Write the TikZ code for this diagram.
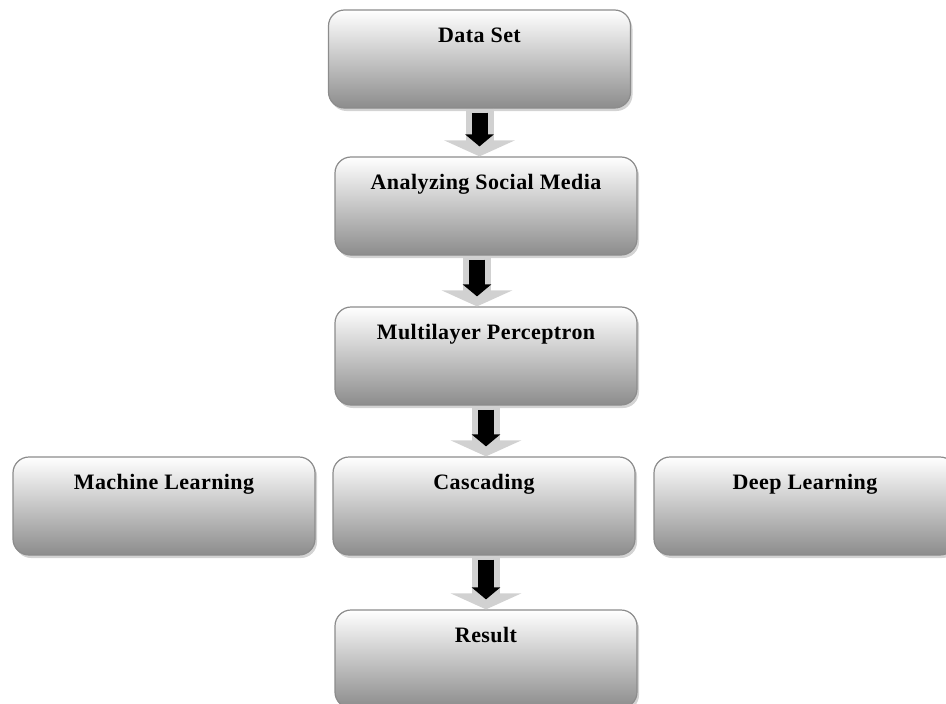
\documentclass[tikz,border=0pt]{standalone}
\usepackage{fontspec}
\newfontfamily\boxfont{Liberation Serif}[LetterSpace=2]
\usetikzlibrary{arrows.meta,shadows}
\tikzset{
  box/.style={draw=black!45, line width=1.2pt, rounded corners=16pt,
    minimum width=302pt, minimum height=98pt, inner sep=0pt,
    top color=white, middle color=black!8, bottom color=black!45,
    drop shadow={shadow xshift=2pt, shadow yshift=-3pt, opacity=0.35}},
  lbl/.style={anchor=base, yshift=-33pt, font=\boxfont\bfseries\fontsize{22}{25}\selectfont},
  outarrow/.style={line width=28pt, draw=black!18, -{Triangle[length=16pt, width=70pt]}},
  inarrow/.style={line width=16pt, draw=black, shorten <=4pt, shorten >=10pt,
    -{Triangle[length=12pt, width=28pt]}}
}
\begin{document}
\begin{tikzpicture}[x=1pt,y=-1pt]
      \useasboundingbox (0,0) rectangle (946,704);
      \clip (0,0) rectangle (946,704);
      \node [box, label={[lbl]north:Data Set}] (ds) at (479.5,59) {};
      \node [box, label={[lbl]north:Analyzing Social Media}] (asm) at (486,206) {};
      \node [box, label={[lbl]north:Multilayer Perceptron}] (mlp) at (486,356) {};
      \node [box, label={[lbl]north:Cascading}] (cas) at (484,506) {};
      \node [box, label={[lbl]north:Machine Learning}] (ml) at (164,506) {};
      \node [box, label={[lbl]north:Deep Learning}] (dl) at (805,506) {};
      \node [box, label={[lbl]north:Result}] (res) at (486,659) {};
      % hollow arrows with a black one inside
      \draw [outarrow] (ds.south) -- (ds.south |- asm.north);
      \draw [inarrow] (ds.south) -- (ds.south |- asm.north);
      \draw [outarrow] ([xshift=-9pt]asm.south) -- ([xshift=-9pt]asm.south |- mlp.north);
      \draw [inarrow] ([xshift=-9pt]asm.south) -- ([xshift=-9pt]asm.south |- mlp.north);
      \draw [outarrow] (mlp.south) -- (mlp.south |- cas.north);
      \draw [inarrow] (mlp.south) -- (mlp.south |- cas.north);
      \draw [outarrow] ([xshift=2pt]cas.south) -- ([xshift=2pt]cas.south |- res.north);
      \draw [inarrow] ([xshift=2pt]cas.south) -- ([xshift=2pt]cas.south |- res.north);
\end{tikzpicture}
\end{document}
